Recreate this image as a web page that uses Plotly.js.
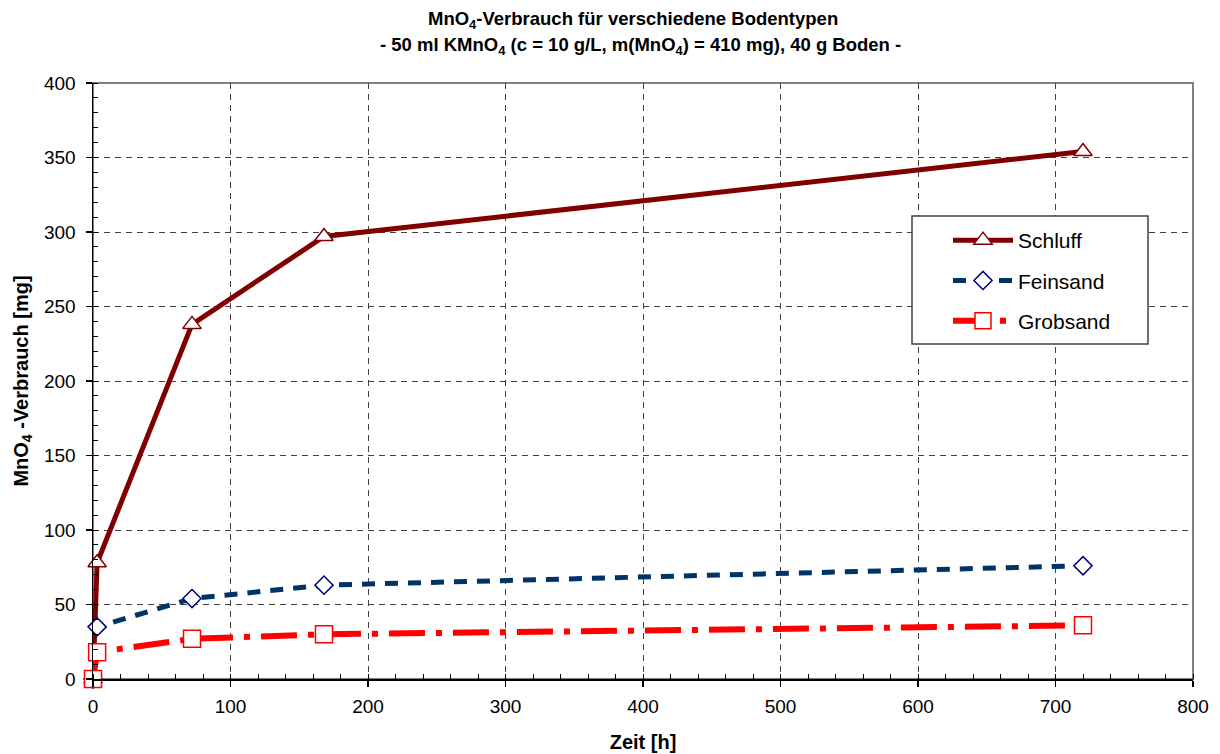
<!DOCTYPE html>
<html>
<head>
<meta charset="utf-8">
<script src="https://cdn.plot.ly/plotly-3.0.1.min.js"></script>
<style>
  html, body { margin: 0; padding: 0; background: #fff; }
  #chart { width: 1220px; height: 754px; }
</style>
</head>
<body>
<div id="chart"></div>
<script>
// Reaktionszeit in Stunden
const zeit = [0, 3, 72, 168, 720];

// MnO4-Verbrauch [mg] je Bodentyp
const schluff  = [0, 78, 238, 297, 354];
const feinsand = [0, 35, 54, 63, 76];
const grobsand = [0, 18, 27, 30, 36];

const serienNamen = ['Schluff', 'Feinsand', 'Grobsand'];

const xTicks = [0, 100, 200, 300, 400, 500, 600, 700, 800];
const yTicks = [0, 50, 100, 150, 200, 250, 300, 350, 400];

const titelZeile1 = '<b>MnO<sub>4</sub>-Verbrauch für verschiedene Bodentypen</b>';
const titelZeile2 = '<b>- 50 ml KMnO<sub>4</sub> (c = 10 g/L, m(MnO<sub>4</sub>) = 410 mg), 40 g Boden -</b>';

const FONT = 'Liberation Sans, Arial, sans-serif';

const traces = [
  {
    x: zeit, y: schluff, name: serienNamen[0], legendgroup: 'a',
    type: 'scatter', mode: 'lines+markers', cliponaxis: false,
    line: { color: '#800000', width: 5 },
    marker: { symbol: 'triangle-up', size: 16, color: '#ffffff',
              line: { color: '#800000', width: 1.5 } }
  },
  {
    x: zeit, y: feinsand, name: serienNamen[1], legendgroup: 'b',
    type: 'scatter', mode: 'lines+markers', cliponaxis: false,
    line: { color: '#003366', width: 5, dash: '13px,10px' },
    marker: { symbol: 'diamond', size: 14, color: '#ffffff',
              line: { color: '#000080', width: 1.5 } }
  },
  {
    x: zeit, y: grobsand, name: serienNamen[2], legendgroup: 'c',
    type: 'scatter', mode: 'lines+markers', cliponaxis: false,
    line: { color: '#ff0000', width: 6, dash: '36px,11px,6px,11px' },
    marker: { symbol: 'square', size: 17, color: '#ffffff',
              line: { color: '#ff0000', width: 1.5 } }
  }
];

const gridStyle = { color: '#404040', width: 1, dash: '6px,5px' };

const layout = {
  width: 1220, height: 754,
  margin: { l: 93, r: 27, t: 83, b: 75 },
  paper_bgcolor: '#ffffff', plot_bgcolor: '#ffffff',
  font: { family: FONT, color: '#000000', size: 19 },
  showlegend: true,
  xaxis: {
    range: [0, 800], tickvals: xTicks, ticktext: xTicks.map(String),
    showgrid: true, gridcolor: gridStyle.color, gridwidth: gridStyle.width, griddash: gridStyle.dash,
    zeroline: false, showline: true, linecolor: '#000000', linewidth: 1.5,
    ticks: 'outside', ticklen: 6, tickwidth: 1.5, tickcolor: '#000000',
    minor: { dtick: 20, ticks: 'inside', ticklen: 5, tickwidth: 1, tickcolor: '#000000', showgrid: false },
    tickfont: { family: FONT, size: 19 },
    ticklabelstandoff: 4,
    title: { text: '<b>Zeit [h]</b>', font: { family: FONT, size: 20 }, standoff: 18 },
    automargin: false,
    fixedrange: true
  },
  yaxis: {
    range: [0, 400], tickvals: yTicks, ticktext: yTicks.map(String),
    showgrid: true, gridcolor: gridStyle.color, gridwidth: gridStyle.width, griddash: gridStyle.dash,
    zeroline: false, showline: true, linecolor: '#000000', linewidth: 1.5,
    ticks: 'outside', ticklen: 6, tickwidth: 1.5, tickcolor: '#000000',
    minor: { dtick: 10, ticks: 'inside', ticklen: 5, tickwidth: 1, tickcolor: '#000000', showgrid: false },
    tickfont: { family: FONT, size: 19 },
    ticklabelstandoff: 6,
    title: { text: '<b>MnO<sub>4</sub> -Verbrauch [mg]</b>', font: { family: FONT, size: 20 }, standoff: 10 },
    automargin: false,
    fixedrange: true
  },
  legend: {
    x: (948 - 93) / 1100, y: 1 - (220 - 83) / 596, xanchor: 'left', yanchor: 'top',
    xref: 'paper', yref: 'paper',
    bgcolor: 'rgba(0,0,0,0)', borderwidth: 0,
    font: { family: FONT, size: 21, color: '#000000' },
    itemwidth: 60, tracegroupgap: 10,
    traceorder: 'grouped'
  },
  annotations: [
    { text: titelZeile1, xref: 'paper', yref: 'paper',
      x: (633 - 93) / 1100, y: 1 + (83 - 20) / 596, xanchor: 'center', yanchor: 'middle',
      showarrow: false, font: { family: FONT, size: 18.5, color: '#000000' } },
    { text: titelZeile2, xref: 'paper', yref: 'paper',
      x: (640 - 93) / 1100, y: 1 + (83 - 46) / 596, xanchor: 'center', yanchor: 'middle',
      showarrow: false, font: { family: FONT, size: 18.5, color: '#000000' } }
  ],
  shapes: [
    // Rahmen der Zeichenfläche
    { type: 'rect', xref: 'paper', yref: 'paper', x0: 0, x1: 1, y0: 0, y1: 1,
      line: { color: '#808080', width: 2 }, layer: 'below' },
    // Legendenkasten
    { type: 'rect', xref: 'paper', yref: 'paper',
      x0: (912 - 93) / 1100, x1: (1148 - 93) / 1100,
      y0: 1 - (344 - 83) / 596, y1: 1 - (216 - 83) / 596,
      fillcolor: '#ffffff', line: { color: '#404040', width: 1.5 }, layer: 'above' }
  ]
};

Plotly.newPlot('chart', traces, layout, { displayModeBar: false, staticPlot: true });
</script>
</body>
</html>
